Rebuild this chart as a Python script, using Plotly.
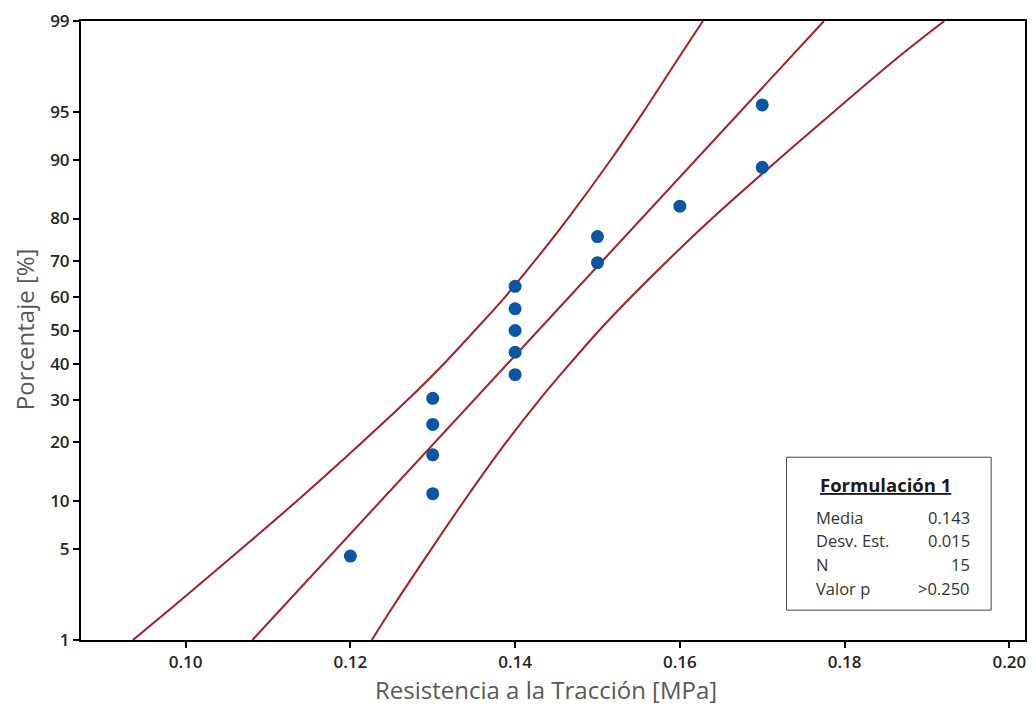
import math
import plotly.graph_objects as go

# ---- data ----
resistencia = [0.12, 0.13, 0.13, 0.13, 0.13, 0.14, 0.14, 0.14, 0.14, 0.14,
               0.15, 0.15, 0.16, 0.17, 0.17]
porcentaje = [4.5, 11.0, 17.5, 24.0, 30.5, 37.0, 43.5, 50.0, 56.5, 63.0,
              69.5, 76.0, 82.5, 89.0, 95.5]

fit_pct = [1, 99]
fit_x = [0.1081, 0.1775]

band_pct = [1, 2, 5, 10, 20, 30, 40, 50, 60, 70, 80, 90, 95, 98, 99]
band_lower = [0.0936, 0.0989, 0.1067, 0.1135, 0.1214, 0.1269, 0.1313, 0.1351,
              0.1388, 0.1424, 0.1464, 0.1516, 0.1556, 0.1599, 0.1628]
band_upper = [0.1226, 0.1254, 0.1298, 0.1338, 0.1389, 0.1429, 0.1466, 0.1502,
              0.1541, 0.1585, 0.1639, 0.1719, 0.1787, 0.1865, 0.1921]

y_ticks = [1, 5, 10, 20, 30, 40, 50, 60, 70, 80, 90, 95, 99]
x_ticks = [0.10, 0.12, 0.14, 0.16, 0.18, 0.20]

stats_labels = ["Media", "Desv. Est.", "N", "Valor p"]
stats_values = ["0.143", "0.015", "15", ">0.250"]


def norm_ppf(p):
    """Inverse standard normal CDF (Acklam's approximation) for probability scale."""
    a = [-3.969683028665376e+01, 2.209460984245205e+02, -2.759285104469687e+02,
         1.383577518672690e+02, -3.066479806614716e+01, 2.506628277459239e+00]
    b = [-5.447609879822406e+01, 1.615858368580409e+02, -1.556989798598866e+02,
         6.680131188771972e+01, -1.328068155288572e+01]
    c = [-7.784894002430293e-03, -3.223964580411365e-01, -2.400758277161838e+00,
         -2.549671010286458e+00, 4.374664141464968e+00, 2.938163982698783e+00]
    d = [7.784695709041462e-03, 3.224671290700398e-01, 2.445134137142996e+00,
         3.754408661907416e+00]
    plow = 0.02425
    if p < plow:
        q = math.sqrt(-2 * math.log(p))
        return (((((c[0]*q+c[1])*q+c[2])*q+c[3])*q+c[4])*q+c[5]) / \
               ((((d[0]*q+d[1])*q+d[2])*q+d[3])*q+1)
    if p > 1 - plow:
        q = math.sqrt(-2 * math.log(1 - p))
        return -(((((c[0]*q+c[1])*q+c[2])*q+c[3])*q+c[4])*q+c[5]) / \
                ((((d[0]*q+d[1])*q+d[2])*q+d[3])*q+1)
    q = p - 0.5
    r = q * q
    return (((((a[0]*r+a[1])*r+a[2])*r+a[3])*r+a[4])*r+a[5])*q / \
           (((((b[0]*r+b[1])*r+b[2])*r+b[3])*r+b[4])*r+1)


def z(pcts):
    return [norm_ppf(v / 100.0) for v in pcts]


RED = "#A91E24"
BLUE = "#0B56A4"

fig = go.Figure()
for xs in (band_lower, band_upper):
    fig.add_trace(go.Scatter(x=xs, y=z(band_pct), mode="lines",
                             line=dict(color=RED, width=2, shape="spline"),
                             hoverinfo="skip"))
fig.add_trace(go.Scatter(x=fit_x, y=z(fit_pct), mode="lines",
                         line=dict(color=RED, width=2)))
fig.add_trace(go.Scatter(x=resistencia, y=z(porcentaje), mode="markers",
                         marker=dict(color=BLUE, size=13)))

tick_font = dict(family="Open Sans", size=17, color="#262626", weight=600)
fig.update_xaxes(range=[0.0873, 0.2019], tickvals=x_ticks,
                 ticktext=[f"{v:.2f}" for v in x_ticks],
                 showline=True, linecolor="black", linewidth=2, mirror=True,
                 ticks="outside", ticklen=6, tickwidth=2, tickcolor="black",
                 showgrid=False, zeroline=False, tickfont=tick_font)
fig.update_yaxes(range=[norm_ppf(0.01), norm_ppf(0.99)], tickvals=z(y_ticks),
                 ticktext=[str(v) for v in y_ticks],
                 showline=True, linecolor="black", linewidth=2, mirror=True,
                 ticks="outside", ticklen=6, tickwidth=2, tickcolor="black",
                 showgrid=False, zeroline=False, tickfont=tick_font)

H = 623.0
W = 946.0
def py(pix):
    return (640 - pix) / H
def px(pix):
    return (pix - 81) / W

title_font = dict(family="Open Sans", size=24, color="#595959")
fig.add_annotation(xref="paper", yref="paper", x=px(547), y=py(690),
                   text="Resistencia a la Tracción [MPa]", showarrow=False,
                   xanchor="center", yanchor="middle", font=title_font)
fig.add_annotation(xref="paper", yref="paper", x=px(24), y=py(327),
                   text="Porcentaje [%]", showarrow=False, textangle=-90,
                   xanchor="center", yanchor="middle", font=title_font)

# stats box
x0p, x1p, y0p, y1p = 0.7474, 0.9641, 0.0482, 0.2953
fig.add_shape(type="rect", xref="paper", yref="paper", x0=x0p, x1=x1p, y0=y0p, y1=y1p,
              line=dict(color="#444444", width=1), fillcolor="white")

fig.add_annotation(xref="paper", yref="paper", x=px(887), y=py(483),
                   text="<b><u>Formulación 1</u></b>", showarrow=False,
                   font=dict(family="Open Sans", size=18.5, color="#1a1a1a"),
                   xanchor="center", yanchor="middle")
row_y = [517, 540, 564, 588]
for lab, val, ry in zip(stats_labels, stats_values, row_y):
    fig.add_annotation(xref="paper", yref="paper", x=px(816), y=py(ry), text=lab,
                       showarrow=False, xanchor="left", yanchor="middle",
                       font=dict(family="Open Sans", size=16.5, color="#333333"))
    fig.add_annotation(xref="paper", yref="paper", x=px(974), y=py(ry), text=val,
                       showarrow=False, xanchor="right", yanchor="middle",
                       font=dict(family="Open Sans", size=16.5, color="#333333"))

fig.update_layout(width=1036, height=715, showlegend=False,
                  margin=dict(l=81, r=9, t=17, b=75),
                  plot_bgcolor="white", paper_bgcolor="white")
fig.write_html("out.html")
